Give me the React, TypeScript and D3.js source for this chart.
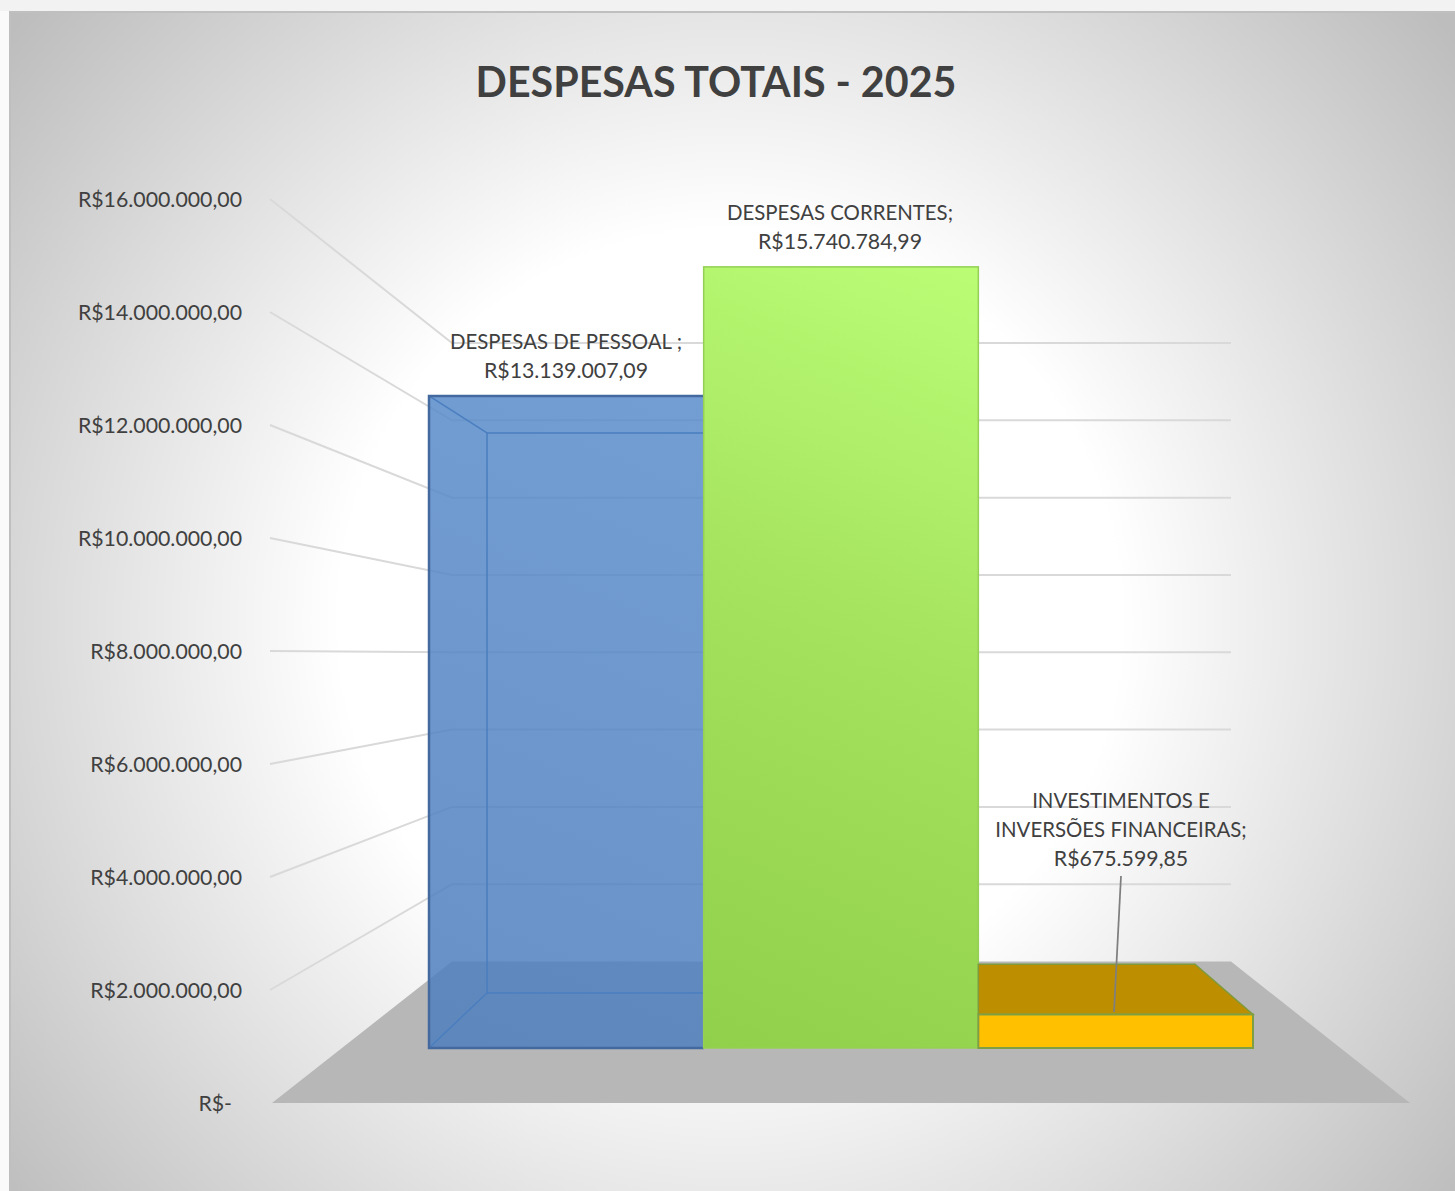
import React from "react";
import * as d3 from "d3";

const categories = ["DESPESAS DE PESSOAL", "DESPESAS CORRENTES", "INVESTIMENTOS E INVERSÕES FINANCEIRAS"];
const seriesValues = [13139007.09, 15740784.99, 675599.85];
const tickValues = [0, 2e6, 4e6, 6e6, 8e6, 10e6, 12e6, 14e6, 16e6];
const labelLines = [
  ["DESPESAS DE PESSOAL ;"],
  ["DESPESAS CORRENTES;"],
  ["INVESTIMENTOS E", "INVERSÕES FINANCEIRAS;"],
];
const title = "DESPESAS TOTAIS - 2025";

const W = 1455, H = 1191;
const FONT = "Lato, Carlito, 'Open Sans', sans-serif";
const INK = "#404040";
const locale = d3.formatLocale({ decimal: ",", thousands: ".", grouping: [3], currency: ["R$", ""] });
const fmt = locale.format("$,.2f");
const tickText = (v: number) => (v === 0 ? "R$-" : fmt(v));

const yLabel = d3.scaleLinear().domain([0, 16e6]).range([1104, 200]);
const yWallFront = d3.scaleLinear().domain([0, 16e6]).range([1103, 199]);
const yWallBack = d3.scaleLinear().domain([0, 16e6]).range([961.5, 343]);
const yBarFront = d3.scaleLinear().domain([0, 16e6]).range([1048, 254]);
const yBarBack = d3.scaleLinear().domain([0, 16e6]).range([993, 311]);
const xFront = d3.scaleBand().domain(categories).range([429, 1253]);
const xBack = d3.scaleBand().domain(categories).range([487, 1195]);

const poly = (p: number[][]) => p.map((q) => q.join(",")).join(" ");
const WALL_L = 270, WALL_B = 452, WALL_R = 1231;

export default function App() {
  const [a, b, c] = categories;
  const bw = xFront.bandwidth();
  const bwB = xBack.bandwidth();
  const ax = xFront(a)!, bx = xFront(b)!, cx = xFront(c)!;
  const aTop = yBarFront(seriesValues[0]), bTop = yBarFront(seriesValues[1]), cTop = yBarFront(seriesValues[2]);
  const base = yBarFront(0), baseB = yBarBack(0);
  const aBackTop = yBarBack(seriesValues[0]), cBackTop = yBarBack(seriesValues[2]);
  const aBackX = xBack(a)!;
  const cBackR = xBack(c)! + bwB;
  return (
    <svg width={W} height={H} viewBox={`0 0 ${W} ${H}`} style={{ position: "absolute", left: 0, top: 0, display: "block" }} fontFamily={FONT}>
      <defs>
        <radialGradient id="bg" gradientUnits="userSpaceOnUse" cx={730} cy={620} r={930}>
          <stop offset="0.42" stopColor="#ffffff" />
          <stop offset="1" stopColor="#bdbdbd" />
        </radialGradient>
        <linearGradient id="green" gradientUnits="userSpaceOnUse" x1={690} y1={1040} x2={1010} y2={290}>
          <stop offset="0" stopColor="#90d04a" />
          <stop offset="0.5" stopColor="#a3e05c" />
          <stop offset="1" stopColor="#bafd75" />
        </linearGradient>
        <linearGradient id="blue" gradientUnits="userSpaceOnUse" x1={429} y1={1048} x2={703} y2={397}>
          <stop offset="0" stopColor="#4e7ebd" />
          <stop offset="1" stopColor="#5a8dcc" />
        </linearGradient>
      </defs>
      <rect width={W} height={H} fill="#fafafa" />
      <rect x={0} y={0} width={W} height={11} fill="#f2f2f2" />
      <rect x={10} y={12} width={W} height={H} fill="url(#bg)" stroke="#bfbfbf" strokeWidth={2} />

      {tickValues.map((v) =>
        v === 0 ? null : (
          <polyline key={v} points={poly([[WALL_L, yWallFront(v)], [WALL_B, yWallBack(v)], [WALL_R, yWallBack(v)]])} fill="none" stroke="#d9d9d9" strokeWidth={2} />
        )
      )}
      <polygon points={poly([[272, yWallFront(0)], [WALL_B, yWallBack(0)], [WALL_R, yWallBack(0)], [1410, yWallFront(0)]])} fill="#b7b7b7" />

      {tickValues.map((v) => (
        <text key={v} x={242} y={yLabel(v)} dy="0.35em" textAnchor="end" dx={v === 0 ? -10 : 0} fontSize={21.3} fill={INK}>
          {tickText(v)}
        </text>
      ))}

      <text x={716} y={97} textAnchor="middle" fontSize={41.2} fontWeight={700} fill={INK}>{title}</text>

      {/* pessoal bar */}
      <rect x={ax} y={aTop} width={bw} height={base - aTop} fill="url(#blue)" fillOpacity={0.85} />
      <polyline points={poly([[ax, aTop], [aBackX, aBackTop], [aBackX, baseB], [ax, base]])} fill="none" stroke="#4a7ebf" strokeWidth={1.5} />
      <polyline points={poly([[aBackX, aBackTop], [ax + bw, aBackTop]])} fill="none" stroke="#4a7ebf" strokeWidth={1.5} />
      <polyline points={poly([[aBackX, baseB], [ax + bw, baseB]])} fill="none" stroke="#4a7ebf" strokeWidth={1.5} />
      <polyline points={poly([[ax + bw, aTop], [ax, aTop], [ax, base], [ax + bw, base]])} fill="none" stroke="#44699f" strokeWidth={2.5} />

      {/* correntes bar */}
      <rect x={bx} y={bTop} width={bw} height={base - bTop} fill="url(#green)" stroke="#96cf55" strokeWidth={1.5} />

      {/* investimentos bar */}
      <polygon points={poly([[cx, cTop], [cx, cBackTop], [cBackR, cBackTop], [cx + bw, cTop]])} fill="#bd8f00" stroke="#7f9a3a" strokeWidth={1.5} />
      <rect x={cx} y={cTop} width={bw} height={base - cTop} fill="#ffc000" stroke="#7f9f45" strokeWidth={2} />

      {/* data labels */}
      <line x1={1121} y1={876} x2={1114} y2={1012} stroke="#7f7f7f" strokeWidth={1.75} />
      {[
        { cx: 566, top: 341.5 },
        { cx: 840, top: 212.5 },
        { cx: 1121, top: 800.5 },
      ].map((p, i) => {
        const names = labelLines[i];
        return (
          <g key={categories[i]} fill={INK} textAnchor="middle">
            {names.map((l, j) => (
              <text key={j} x={p.cx} y={p.top + j * 29.2} dy="0.35em" fontSize={20.4}>{l}</text>
            ))}
            <text x={p.cx} y={p.top + names.length * 29.2} dy="0.35em" fontSize={21.3}>{fmt(seriesValues[i])}</text>
          </g>
        );
      })}
    </svg>
  );
}
